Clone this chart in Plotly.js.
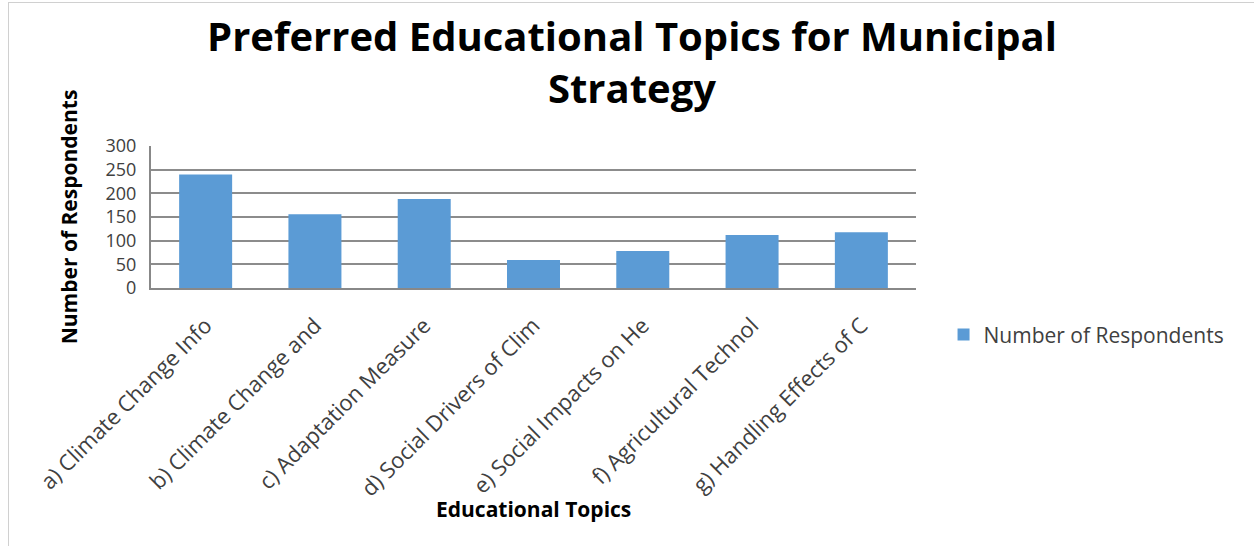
<!DOCTYPE html>
<html>
<head>
<meta charset="utf-8">
<script src="https://cdn.plot.ly/plotly-3.0.1.min.js"></script>
<style>
html,body{margin:0;padding:0;background:#fff;}
#chart{width:1254px;height:546px;}
#frame{position:absolute;left:8px;top:2px;width:1246px;height:544px;border-left:1px solid #d0d0d0;border-top:1px solid #d0d0d0;pointer-events:none;}
</style>
</head>
<body>
<div id="chart"></div>
<div id="frame"></div>
<script>
const categories = [
  "a) Climate Change Info",
  "b) Climate Change and",
  "c) Adaptation Measure",
  "d) Social Drivers of Clim",
  "e) Social Impacts on He",
  "f) Agricultural Technol",
  "g) Handling Effects of C"
];
const respondents = [240, 156, 188, 59, 78, 112, 118];
const seriesName = "Number of Respondents";
const xTitle = "Educational Topics";
const yTitle = "Number of Respondents";
const yTicks = [0, 50, 100, 150, 200, 250, 300];

const trace = {
  type: "bar",
  x: categories,
  y: respondents,
  name: seriesName,
  marker: {color: "#5B9BD5", line: {width: 0}},
  showlegend: true
};

const layout = {
  width: 1254,
  height: 546,
  paper_bgcolor: "#ffffff",
  plot_bgcolor: "#ffffff",
  margin: {l: 151, r: 338, t: 146, b: 258},
  bargap: 0.515,
  title: {
    text: "<b>Preferred Educational Topics for Municipal<br>Strategy</b>",
    font: {family: "Open Sans, sans-serif", size: 40, color: "#000000"},
    x: 0.504, xanchor: "center",
    y: 0.907, yanchor: "middle"
  },
  xaxis: {
    tickangle: -45,
    tickfont: {family: "Open Sans, sans-serif", size: 22, color: "#404040"},
    ticklabelstandoff: 14,
    showline: true, linecolor: "#888888", linewidth: 2,
    ticks: "", showgrid: false,
    automargin: false
  },
  yaxis: {
    range: [0, 300],
    tickvals: yTicks,
    tickfont: {family: "Open Sans, sans-serif", size: 18, color: "#404040"},
    ticklabelstandoff: 9,
    showline: true, linecolor: "#888888", linewidth: 2,
    showgrid: true, gridcolor: "#8c8c8c", gridwidth: 2,
    zeroline: false,
    ticks: "",
    title: {text: "<b>" + yTitle + "</b>", font: {family: "Open Sans, sans-serif", size: 21, color: "#000000"}, standoff: 22},
    automargin: false
  },
  annotations: [{
    text: "<b>" + xTitle + "</b>",
    xref: "paper", yref: "paper",
    x: 0.5, y: -1.555, xanchor: "center", yanchor: "middle",
    showarrow: false,
    font: {family: "Open Sans, sans-serif", size: 21, color: "#000000"}
  }],
  legend: {
    x: 1.036, xanchor: "left",
    y: -0.33, yanchor: "middle",
    font: {family: "Open Sans, sans-serif", size: 21, color: "#404040"},
    bgcolor: "rgba(0,0,0,0)",
    itemwidth: 30
  },
  showlegend: true
};

Plotly.newPlot("chart", [trace], layout, {displayModeBar: false, staticPlot: true});
</script>
</body>
</html>
